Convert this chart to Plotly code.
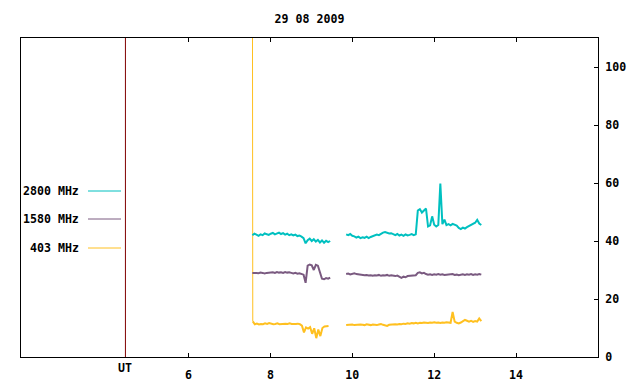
import plotly.graph_objects as go

# ---- data (hours UT, relative flux units) ----
seg1_start = 7.56
seg2_start = 9.85
step = 0.05

f2800_seg1 = [42.0, 42.5, 42.2, 41.8, 42.3, 42.0, 42.6, 42.4, 42.1, 42.5,
              42.8, 42.3, 42.6, 42.9, 42.4, 42.7, 42.2, 42.5, 42.0, 42.3,
              41.9, 42.2, 41.7, 41.9, 41.5, 41.0, 39.2, 40.3, 40.8, 40.0,
              40.6, 39.8, 40.4, 39.5, 40.2, 39.4, 40.1, 39.6, 40.0]
f2800_seg2 = [42.3, 42.0, 42.4, 41.8, 41.6, 41.2, 41.5, 41.0, 41.3, 41.1,
              41.5, 41.0, 41.4, 41.6, 41.8, 42.2, 42.0, 42.6, 42.9, 43.1,
              42.9, 42.6, 42.7, 42.3, 42.0, 42.4, 41.9, 42.2, 41.8, 42.3,
              41.9, 42.1, 42.4, 42.0, 42.3, 50.5, 51.0, 49.8, 50.6, 51.2,
              45.0, 45.4, 48.5, 45.6, 45.0, 45.5, 59.8, 45.8, 47.4, 45.5,
              45.8, 45.4, 45.9, 45.6, 45.3, 44.5, 44.1, 44.6, 44.3, 44.8,
              45.2, 45.6, 45.9, 46.3, 47.3, 46.0, 45.5]

f1580_seg1 = [29.0, 29.1, 29.0, 28.9, 29.1, 29.0, 28.8, 29.0, 29.1, 29.0,
              29.2, 29.0, 29.3, 29.1, 29.2, 29.0, 29.3, 29.1, 29.2, 29.0,
              28.8, 29.0, 28.7, 28.9, 28.6, 28.4, 25.6, 31.5, 31.9, 31.6,
              30.0, 31.8, 31.5, 29.5, 27.0, 26.8, 27.2, 27.0, 27.4]
f1580_seg2 = [28.6, 28.8, 28.5, 28.7, 28.9, 28.6, 28.5, 28.3, 28.4, 28.2,
              28.3, 28.1, 28.2, 28.0, 28.2, 28.1, 28.3, 28.0, 28.2, 28.1,
              28.3, 28.0, 28.2, 28.1, 27.9, 28.1, 27.6, 27.3, 27.7, 27.5,
              27.9, 28.0, 28.1, 28.0, 28.2, 29.0, 29.2, 28.8, 29.0, 28.6,
              28.4, 28.5, 28.3, 28.5, 28.4, 28.6, 28.4, 28.5, 28.3, 28.4,
              28.5, 28.4, 28.6, 28.3, 28.4, 28.2, 28.4, 28.5, 28.3, 28.5,
              28.4, 28.6, 28.3, 28.5, 28.4, 28.6, 28.4]

f403_seg1 = [150.0, 12.3, 11.3, 11.5, 11.2, 11.4, 11.3, 11.6, 11.4, 11.7,
             11.5, 11.3, 11.4, 11.6, 11.3, 11.4, 11.3, 11.5, 11.4, 11.6,
             11.4, 11.3, 11.4, 11.5, 11.3, 10.8, 8.5, 10.2, 9.8, 10.3,
             8.0, 9.9, 6.5, 9.5, 7.2, 10.0, 10.5, 10.6, 10.7]
f403_seg2 = [11.0, 11.1, 11.0, 11.2, 11.0, 11.1, 11.0, 11.2, 11.1, 11.0,
             11.3, 11.1, 11.0, 11.2, 11.1, 11.0, 11.2, 11.4, 11.1, 11.0,
             10.7, 11.1, 11.2, 11.1, 11.3, 11.2, 11.4, 11.3, 11.5, 11.4,
             11.6, 11.5, 11.7, 11.6, 11.8, 11.6, 11.8, 11.7, 11.9, 11.8,
             11.7, 11.9, 11.8, 12.0, 11.8, 11.9, 11.7, 11.9, 11.8, 12.0,
             11.9, 11.8, 15.5, 12.2, 11.8, 11.6, 11.9, 12.3, 12.8, 12.5,
             12.2, 12.5, 12.1, 12.4, 12.2, 13.3, 12.4]

series_names = ["2800 MHz", "1580 MHz", "403 MHz"]
series_colors = ["#00c0c0", "#7a5a80", "#ffc020"]
x_ticks = [6, 8, 10, 12, 14]
y_ticks = [0, 20, 40, 60, 80, 100]
title_text = "29 08 2009"
ut_time = 4.46

FONT = dict(family="DejaVu Sans Mono", size=11.6, color="black", weight="bold")


def times(start, n):
    return [round(start + i * step, 4) for i in range(n)]


fig = go.Figure()

# the off-scale spike at the start of the 403 MHz record, drawn thin
spike_x = [seg1_start, seg1_start + 0.01]
fig.add_trace(go.Scatter(x=spike_x, y=f403_seg1[:2], mode="lines",
                         line=dict(color=series_colors[2], width=1),
                         showlegend=False, hoverinfo="skip"))

data = [(f403_seg1[1:], f403_seg2, seg1_start + 0.01),
        (f1580_seg1, f1580_seg2, seg1_start),
        (f2800_seg1, f2800_seg2, seg1_start)]
order = [2, 1, 0]
for (s1, s2, st), idx in zip(data, order):
    x = times(st, len(s1)) + [None] + times(seg2_start, len(s2))
    y = s1 + [None] + s2
    fig.add_trace(go.Scatter(x=x, y=y, mode="lines", name=series_names[idx],
                             line=dict(color=series_colors[idx], width=2),
                             showlegend=False, hoverinfo="skip"))

# plot-area geometry (pixels) for legend placement
L, R, T, B = 21, 598, 38, 357
W, H = R - L, B - T


def px_x(p):
    return (p - L) / W


def px_y(p):
    return (B - p) / H


legend_rows = [191, 219, 248]
for name, color, row in zip(series_names, series_colors, legend_rows):
    fig.add_shape(type="line", xref="paper", yref="paper",
                  x0=px_x(88), x1=px_x(121), y0=px_y(row), y1=px_y(row),
                  line=dict(color=color, width=1))
    fig.add_annotation(xref="paper", yref="paper", x=px_x(81), y=px_y(row),
                       text=name, showarrow=False, xanchor="right",
                       yanchor="middle", font=FONT)

# UT line
fig.add_shape(type="line", xref="x", yref="paper", x0=ut_time, x1=ut_time,
              y0=0, y1=1, line=dict(color="#800000", width=1))
fig.add_annotation(xref="x", yref="paper", x=ut_time, y=px_y(368), text="UT",
                   showarrow=False, xanchor="center", yanchor="middle", font=FONT)

fig.update_layout(
    width=640, height=384,
    margin=dict(l=L, r=640 - R, t=T, b=384 - B, pad=0, autoexpand=False),
    paper_bgcolor="white", plot_bgcolor="white",
    title=dict(text=title_text, x=0.5, xref="paper", y=1 - 19 / 384,
               yanchor="middle", xanchor="center", font=FONT, automargin=False),
    showlegend=False,
    xaxis=dict(range=[1.91, 16.0], tickvals=x_ticks, ticks="inside", ticklen=4,
               tickcolor="black", showline=True, linecolor="black", linewidth=1,
               mirror="ticks", showgrid=False, zeroline=False, tickfont=FONT,
               ticklabelstandoff=7, automargin=False),
    yaxis=dict(range=[0, 110], tickvals=y_ticks, side="right", ticks="inside",
               ticklen=4, tickcolor="black", showline=True, linecolor="black",
               linewidth=1, mirror=True, showgrid=False, zeroline=False,
               tickfont=FONT, ticklabelstandoff=4, automargin=False),
)

fig.write_html("out.html", config={"displayModeBar": False},
               post_script="document.body.style.margin='0';")
